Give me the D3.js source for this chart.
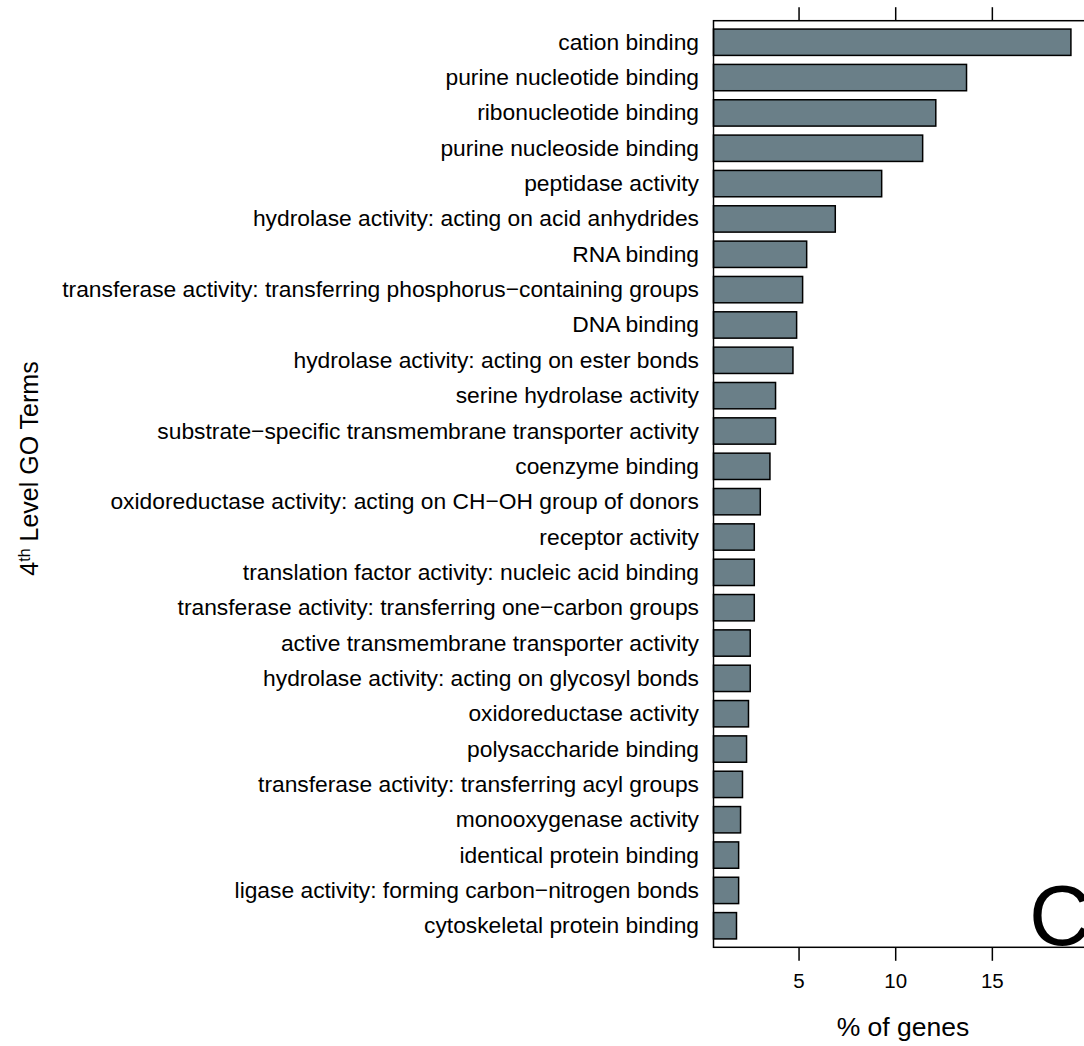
<!DOCTYPE html>
<html>
<head>
<meta charset="utf-8">
<script src="https://cdn.jsdelivr.net/npm/d3@7"></script>
<style>
  html, body { margin: 0; padding: 0; background: #fff; }
  svg { display: block; }
  text { font-family: "Liberation Sans", Arial, Helvetica, sans-serif; fill: #000; }
</style>
</head>
<body>
<svg id="chart" width="1084" height="1046"></svg>
<script>
const categories = [
  "cation binding",
  "purine nucleotide binding",
  "ribonucleotide binding",
  "purine nucleoside binding",
  "peptidase activity",
  "hydrolase activity: acting on acid anhydrides",
  "RNA binding",
  "transferase activity: transferring phosphorus\u2212containing groups",
  "DNA binding",
  "hydrolase activity: acting on ester bonds",
  "serine hydrolase activity",
  "substrate\u2212specific transmembrane transporter activity",
  "coenzyme binding",
  "oxidoreductase activity: acting on CH\u2212OH group of donors",
  "receptor activity",
  "translation factor activity: nucleic acid binding",
  "transferase activity: transferring one\u2212carbon groups",
  "active transmembrane transporter activity",
  "hydrolase activity: acting on glycosyl bonds",
  "oxidoreductase activity",
  "polysaccharide binding",
  "transferase activity: transferring acyl groups",
  "monooxygenase activity",
  "identical protein binding",
  "ligase activity: forming carbon\u2212nitrogen bonds",
  "cytoskeletal protein binding"
];
const percentGenes = [
  19.09, 13.69, 12.10, 11.42, 9.30, 6.90, 5.42, 5.21, 4.90, 4.71,
  3.81, 3.81, 3.52, 3.02, 2.71, 2.71, 2.71, 2.50, 2.50, 2.41,
  2.31, 2.10, 2.00, 1.90, 1.90, 1.79
];
const xTicks = [5, 10, 15];
const xDomain = [0.6, 20.2];
const xTitle = "% of genes";
const yTitleMain = "4";
const yTitleSup = "th";
const yTitleRest = " Level GO Terms";
const panelLetter = "C";

const svg = d3.select("#chart");
const plot = { left: 713.5, top: 20.7, bottom: 947.3 };

const x = d3.scaleLinear().domain(xDomain).range([plot.left, plot.left + (xDomain[1] - xDomain[0]) * 19.33]);
const y = d3.scaleBand().domain(categories).range([plot.top, plot.bottom])
  .paddingInner(0.255).paddingOuter(0.237);

const labelSize = 22.8;

// bars
svg.append("g").selectAll("rect")
  .data(categories)
  .join("rect")
  .attr("x", x(xDomain[0]))
  .attr("y", d => y(d))
  .attr("width", (d, i) => x(percentGenes[i]) - x(xDomain[0]))
  .attr("height", y.bandwidth())
  .attr("fill", "#6a7f88")
  .attr("stroke", "#000")
  .attr("stroke-width", 1.5);

// category labels
svg.append("g").selectAll("text")
  .data(categories)
  .join("text")
  .attr("x", 699)
  .attr("y", d => y(d) + y.bandwidth() / 2)
  .attr("dy", "0.33em")
  .attr("text-anchor", "end")
  .style("font-size", labelSize + "px")
  .text(d => d);

// box (left, top, bottom; right beyond view)
const box = svg.append("g").attr("fill", "none").attr("stroke", "#000").attr("stroke-width", 1.5);
box.append("rect")
  .attr("x", x(xDomain[0])).attr("y", plot.top)
  .attr("width", x(xDomain[1]) - x(xDomain[0]))
  .attr("height", plot.bottom - plot.top);

// bottom axis
const axB = d3.axisBottom(x).tickValues(xTicks).tickSize(13.5).tickPadding(13).tickFormat(d3.format("d"));
const gB = svg.append("g").attr("transform", `translate(0,${plot.bottom})`).call(axB);
gB.select(".domain").remove();
gB.selectAll("line").attr("stroke", "#000").attr("stroke-width", 1.5);
gB.selectAll("text").style("font-size", "20.5px").style("font-family", '"Liberation Sans", Arial, sans-serif').attr("fill", "#000");

// top axis (ticks only)
const axT = d3.axisTop(x).tickValues(xTicks).tickSize(13.5).tickFormat("");
const gT = svg.append("g").attr("transform", `translate(0,${plot.top})`).call(axT);
gT.select(".domain").remove();
gT.selectAll("line").attr("stroke", "#000").attr("stroke-width", 1.5);

// x title
svg.append("text")
  .attr("x", (x(xDomain[0]) + x(xDomain[1])) / 2)
  .attr("y", 1036)
  .attr("text-anchor", "middle")
  .style("font-size", "26.5px")
  .text(xTitle);

// y title
const yt = svg.append("text")
  .attr("transform", "translate(38,468.5) rotate(-90)")
  .attr("text-anchor", "middle")
  .style("font-size", "25px");
yt.append("tspan").text(yTitleMain);
yt.append("tspan").attr("dy", "-0.5em").style("font-size", "16px").text(yTitleSup);
yt.append("tspan").attr("dy", "0.32em").text(yTitleRest);

// panel letter
svg.append("text")
  .attr("x", 1029)
  .attr("y", 945)
  .style("font-size", "86px")
  .text(panelLetter);
</script>
</body>
</html>
